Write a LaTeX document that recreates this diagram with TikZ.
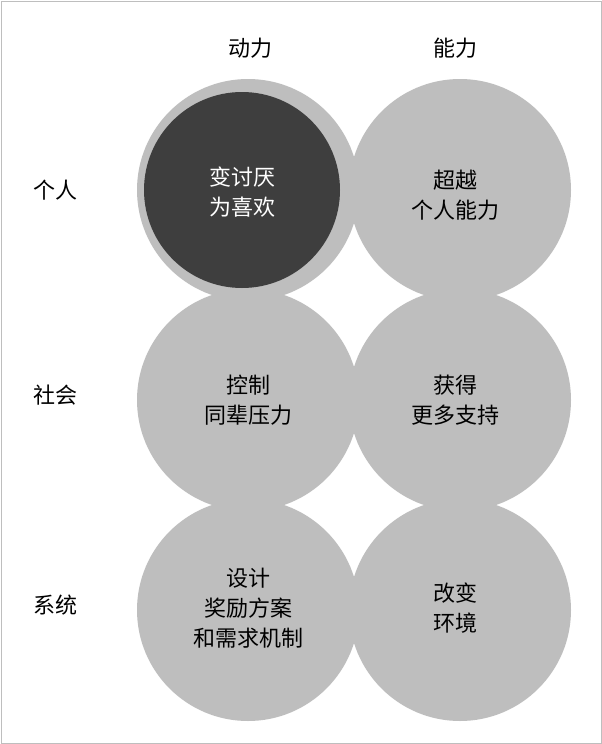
\documentclass[tikz,border=0pt]{standalone}
\usepackage{fontspec}
\newfontfamily\cjk{Noto Sans CJK SC}
\definecolor{cg}{HTML}{BEBEBE}
\definecolor{cd}{HTML}{3E3E3E}
\begin{document}
\begin{tikzpicture}[x=1pt,y=-1pt,
  circ/.style={circle,fill=cg,minimum size=222pt,inner sep=0pt},
  lbl/.style={font=\cjk\fontsize{22}{30}\selectfont,align=center,text=black}]
\useasboundingbox (0,0) rectangle (602,744);
\fill[white] (0,0) rectangle (602,744);
\draw[cg,line width=1pt] (1,1) rectangle (601,743);
\node[circ] (c11) at (248,190) {};
\node[circ] (c12) at (460,190) {};
\node[circ] (c21) at (248,400) {};
\node[circ] (c22) at (460,400) {};
\node[circ] (c31) at (248,610) {};
\node[circ] (c32) at (460,610) {};
\node[circle,fill=cd,minimum size=196pt,inner sep=0pt] (d) at (242,190) {};
\node[lbl,text=white] (t11) at (242,192) {变讨厌\\为喜欢};
\node[lbl] (t12) at (455,195) {超越\\个人能力};
\node[lbl] (t21) at (248,400) {控制\\同辈压力};
\node[lbl] (t22) at (455,400) {获得\\更多支持};
\node[lbl] (t31) at (248,608) {设计\\奖励方案\\和需求机制};
\node[lbl] (t32) at (455,608) {改变\\环境};
\node[lbl] (h1) at (250,48) {动力};
\node[lbl] (h2) at (455,48) {能力};
\node[lbl] (r1) at (55,190) {个人};
\node[lbl] (r2) at (55,395) {社会};
\node[lbl] (r3) at (55,605) {系统};
\end{tikzpicture}
\end{document}
